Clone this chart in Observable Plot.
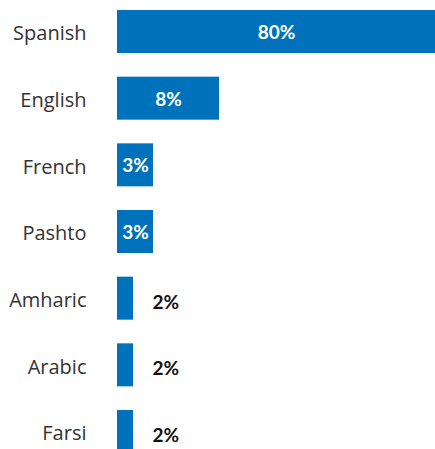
<!DOCTYPE html>
<html>
<head>
<meta charset="utf-8">
<script src="https://cdn.jsdelivr.net/npm/d3@7"></script>
<script src="https://cdn.jsdelivr.net/npm/@observablehq/plot@0.6"></script>
<style>
  html, body { margin: 0; padding: 0; background: #fff; }
  #chart svg { display: block; }
</style>
</head>
<body>
<div id="chart"></div>
<script>
const languages = ["Spanish", "English", "French", "Pashto", "Amharic", "Arabic", "Farsi"];
const shares = [80, 8, 3, 3, 2, 2, 2];
const shareLabels = ["80%", "8%", "3%", "3%", "2%", "2%", "2%"];

const data = languages.map((language, i) => ({
  language,
  share: shares[i],
  label: shareLabels[i],
  inside: shares[i] >= 3
}));

// The original uses a non-proportional (piecewise) bar-length scale
const xOptions = {type: "linear", domain: [0, 2, 3, 8, 80], range: [117, 133, 153, 219, 435], axis: null};
const xs = Plot.scale({x: xOptions});
const mid = d => xs.invert((xs.apply(0) + xs.apply(d.share)) / 2);

const chart = Plot.plot({
  width: 435,
  height: 449,
  marginLeft: 117,
  marginRight: 0,
  marginTop: 10,
  marginBottom: 0,
  style: {fontFamily: "Lato, sans-serif", color: "#333", background: "#fff"},
  x: xOptions,
  y: {domain: languages, range: [10, 453], paddingInner: 0.355, paddingOuter: 0, round: false, axis: null, label: null},
  marks: [
    Plot.barX(data, {x: "share", y: "language", fill: "#0072bc"}),
    Plot.axisY({tickSize: 0, tickPadding: 31, fontSize: 20, fontFamily: "'Open Sans', sans-serif", label: null, fill: "#333", dy: 2}),
    Plot.text(data.filter(d => d.inside), {
      x: mid, y: "language", text: "label",
      fill: "#fff", fontSize: 19, fontWeight: 700, dy: 1
    }),
    Plot.text(data.filter(d => !d.inside), {
      x: "share", y: "language", text: "label",
      fill: "#111", fontSize: 19, fontWeight: 700, textAnchor: "start", dx: 19, dy: 4
    })
  ]
});

document.getElementById("chart").appendChild(chart);
</script>
</body>
</html>
